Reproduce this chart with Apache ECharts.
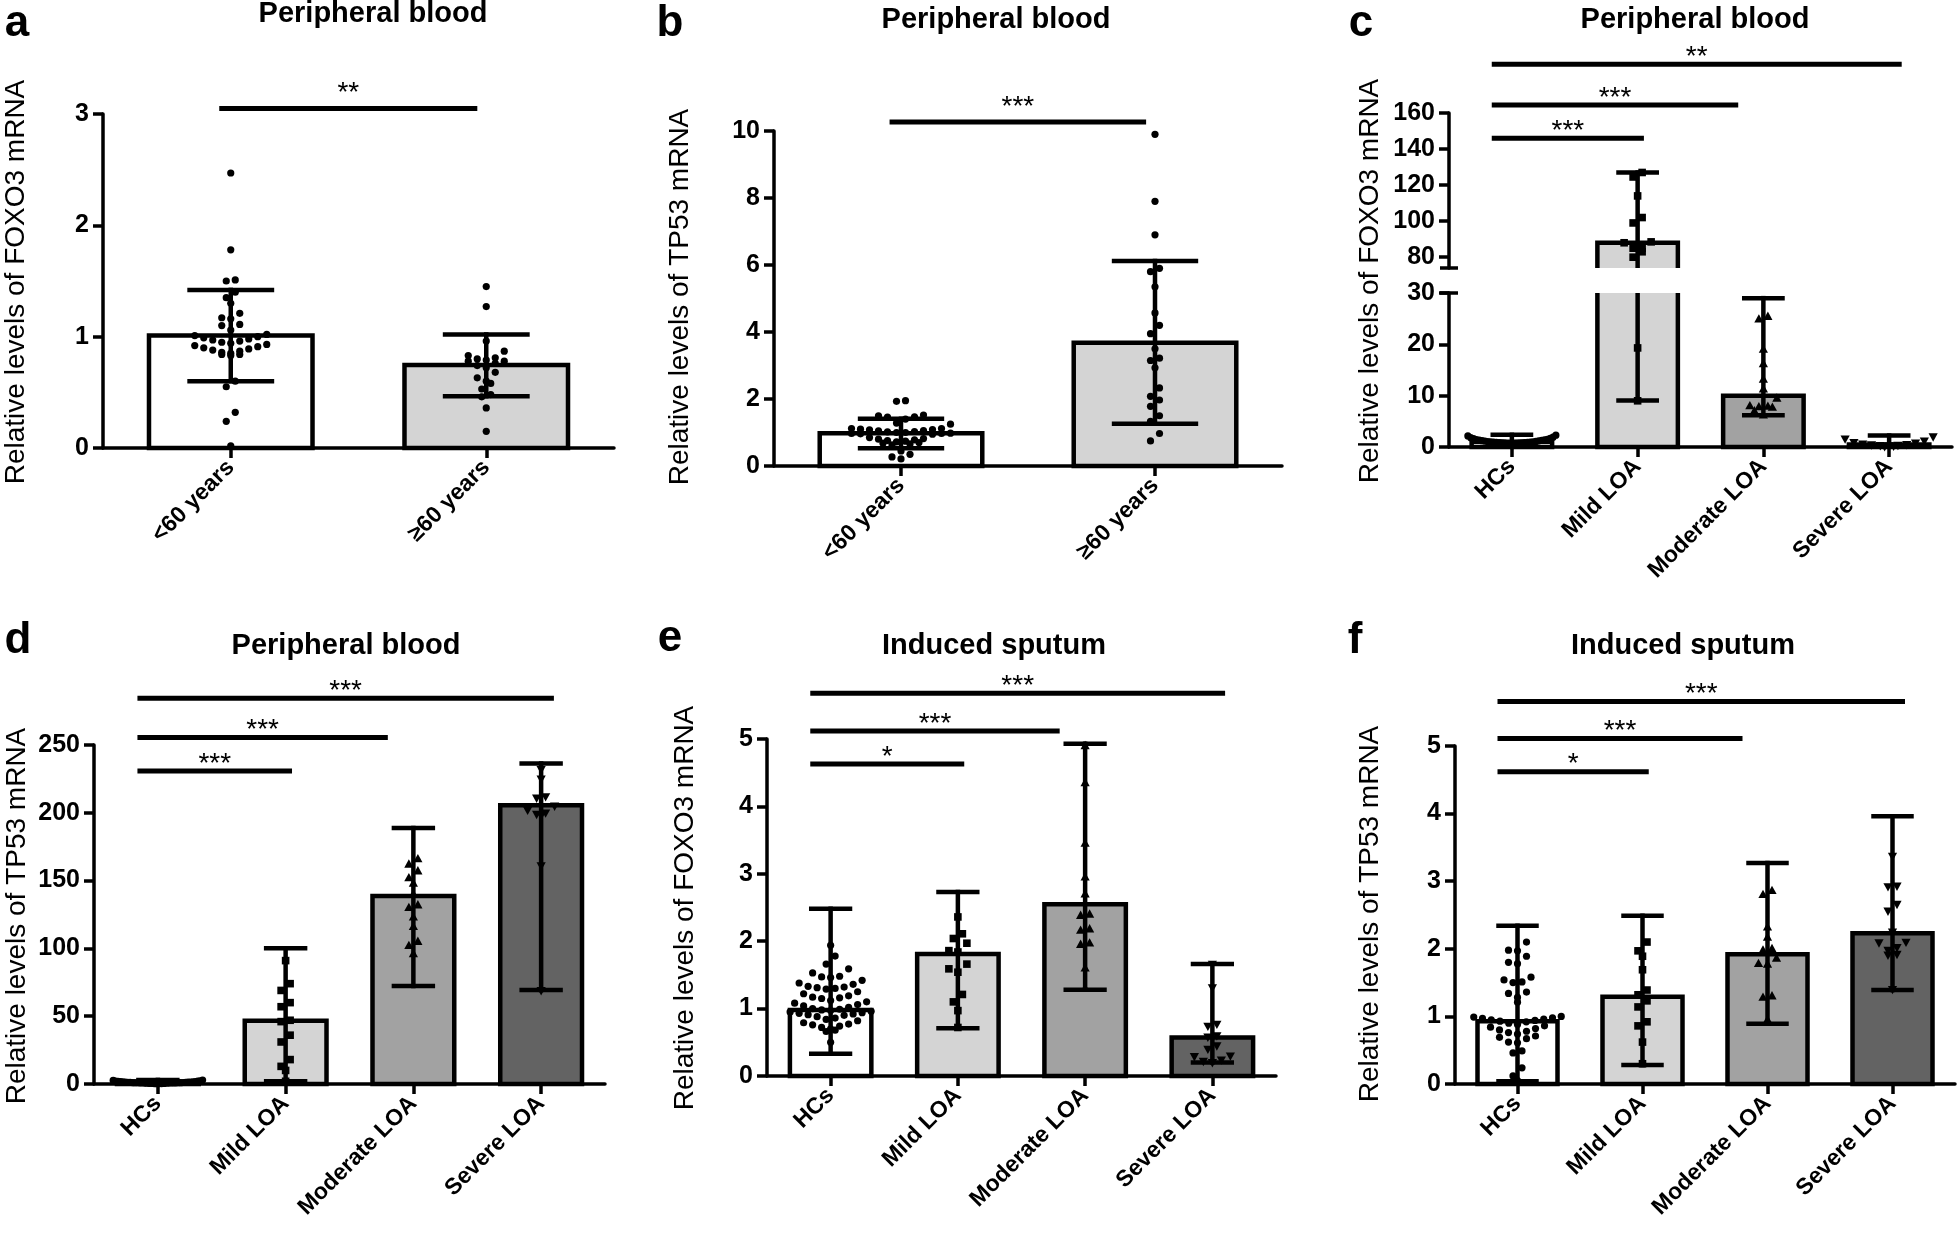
<!DOCTYPE html>
<html><head><meta charset="utf-8">
<script src="https://cdn.jsdelivr.net/npm/echarts@6.0.0/dist/echarts.min.js"></script>
<style>html,body{margin:0;padding:0;background:#fff}#chart{width:1959px;height:1234px}</style>
</head><body><div id="chart"></div>
<script>
// ================= DATA =================
const catsAge = ['<60 years', '\u226560 years'];
const catsLOA = ['HCs', 'Mild LOA', 'Moderate LOA', 'Severe LOA'];

// (a) FOXO3, peripheral blood, by age
const aMean = [1.01, 0.745];
const aLow = [0.60, 0.465];
const aHigh = [1.42, 1.02];
const aPtsUnder60 = [2.47, 1.78, 1.51, 1.50, 1.40, 1.35, 1.30, 1.21, 1.17, 1.16, 1.11, 1.10, 1.06, 1.02, 1.01, 1.00, 0.99, 0.98, 0.97, 0.96, 0.95, 0.94, 0.93, 0.92, 0.91, 0.90, 0.89, 0.88, 0.87, 0.86, 0.85, 0.84, 0.84, 0.83, 0.60, 0.55, 0.32, 0.24, 0.02];
const aPtsOver60 = [1.45, 1.27, 0.96, 0.87, 0.83, 0.81, 0.80, 0.79, 0.78, 0.78, 0.76, 0.74, 0.72, 0.68, 0.63, 0.60, 0.58, 0.53, 0.48, 0.46, 0.36, 0.15];
const aSig = [[0, 1, 3.05, '**']];
const aTicks = [0, 1, 2, 3];

// (b) TP53, peripheral blood, by age
const bMean = [0.98, 3.68];
const bLow = [0.53, 1.26];
const bHigh = [1.41, 6.12];
const bPtsUnder60 = [1.95, 1.93, 1.52, 1.50, 1.47, 1.46, 1.40, 1.28, 1.25, 1.12, 1.10, 1.12, 1.08, 1.05, 1.03, 1.02, 1.00, 0.98, 0.97, 0.96, 0.95, 0.97, 1.00, 1.06, 1.09, 0.85, 0.82, 0.78, 0.74, 0.70, 0.66, 0.63, 0.68, 0.72, 0.76, 0.80, 0.45, 0.35, 0.27, 0.21];
const bPtsOver60 = [9.9, 7.9, 6.9, 5.9, 5.8, 5.35, 4.57, 4.2, 3.95, 3.5, 3.22, 3.15, 2.93, 2.33, 2.08, 1.97, 1.78, 1.5, 1.33, 0.97, 0.75];
const bSig = [[0, 1, 10.27, '***']];
const bTicks = [0, 2, 4, 6, 8, 10];

// (c) FOXO3, peripheral blood, by severity (broken axis)
const cMean = [1.0, 88, 10.0, 0.5];
const cLow = [0.2, 9.07, 6.2, 0.1];
const cHigh = [2.37, 127, 29, 2.23];
const cPtsHC = [2.3, 2.15, 1.92, 1.81, 1.7, 1.62, 1.51, 1.44, 1.38, 1.33, 1.28, 1.24, 1.19, 1.13, 1.08, 1.04, 1.01, 0.99, 0.97, 0.94, 0.92, 0.89, 0.87, 0.84, 0.82, 0.79, 0.77, 0.74, 0.69, 0.64, 0.61, 0.56, 0.51, 0.44, 0.39, 0.31, 0.22];
const cPtsMild = [127, 124.5, 114, 102, 99, 88.5, 88, 85, 85, 83, 80, 19.3, 9];
const cPtsModerate = [25.4, 24.9, 19, 16.2, 13.2, 11.3, 9.5, 8.0, 7.9, 7.8, 7.7, 7.0, 6.2];
const cPtsSevere = [2.0, 1.6, 1.2, 0.9, 0.8, 0.6, 0.5, 0.45, 0.35, 0.3, 0.25, 0.2, 0.1];
const cSig = [[0, 1, 146, '***'], [0, 2, 164.5, '***'], [0, 3, 187, '**']];
const cTicksLower = [0, 10, 20, 30];
const cTicksUpper = [80, 100, 120, 140, 160];

// (d) TP53, peripheral blood, by severity
const dMean = [1.0, 46.6, 138.6, 205.5];
const dLow = [0.1, 2, 72.2, 69.3];
const dHigh = [3.0, 100.2, 188.7, 236.4];
const dPtsHC = [2.9, 2.6, 2.4, 2.2, 2.05, 1.9, 1.8, 1.7, 1.6, 1.52, 1.45, 1.4, 1.31, 1.25, 1.2, 1.14, 1.1, 1.05, 1.0, 0.98, 0.95, 0.91, 0.88, 0.85, 0.8, 0.76, 0.72, 0.7, 0.65, 0.6, 0.55, 0.5, 0.45, 0.4, 0.35, 0.3, 0.25, 0.2];
const dPtsMild = [91, 74, 69, 60, 57, 47, 46, 36, 31, 18, 13, 10, 2];
const dPtsModerate = [166, 162, 157, 152, 148, 140, 132, 130, 123, 116, 105, 102, 96];
const dPtsSevere = [232, 225, 212, 211, 205, 202, 200, 199, 198, 161, 69];
const dSig = [[0, 1, 230.8, '***'], [0, 2, 255.6, '***'], [0, 3, 284.5, '***']];
const dTicks = [0, 50, 100, 150, 200, 250];

// (e) FOXO3, induced sputum
const eMean = [0.98, 1.81, 2.55, 0.57];
const eLow = [0.33, 0.71, 1.28, 0.2];
const eHigh = [2.48, 2.73, 4.93, 1.66];
const ePtsHC = [1.94, 1.78, 1.66, 1.59, 1.53, 1.48, 1.47, 1.46, 1.42, 1.38, 1.36, 1.33, 1.32, 1.31, 1.30, 1.29, 1.25, 1.22, 1.19, 1.17, 1.16, 1.15, 1.12, 1.10, 1.08, 1.06, 1.04, 1.02, 1.0, 0.99, 0.98, 0.97, 0.96, 0.95, 0.94, 0.93, 0.92, 0.91, 0.90, 0.88, 0.86, 0.84, 0.82, 0.79, 0.77, 0.76, 0.74, 0.72, 0.70, 0.68, 0.66, 0.5];
const ePtsMild = [2.36, 2.11, 2.04, 1.97, 1.86, 1.84, 1.66, 1.59, 1.54, 1.21, 1.10, 0.97, 0.72];
const ePtsModerate = [4.9, 4.35, 3.45, 2.95, 2.7, 2.4, 2.38, 2.18, 2.16, 1.97, 1.95, 1.6, 1.3];
const ePtsSevere = [1.66, 1.31, 0.77, 0.74, 0.60, 0.58, 0.45, 0.40, 0.30, 0.29, 0.24, 0.22, 0.2];
const eSig = [[0, 1, 4.63, '*'], [0, 2, 5.12, '***'], [0, 3, 5.68, '***']];
const eTicks = [0, 1, 2, 3, 4, 5];

// (f) TP53, induced sputum
const fMean = [0.93, 1.29, 1.92, 2.23];
const fLow = [0.04, 0.28, 0.89, 1.39];
const fHigh = [2.34, 2.49, 3.27, 3.96];
const fPtsHC = [2.10, 1.98, 1.97, 1.89, 1.80, 1.78, 1.58, 1.54, 1.51, 1.50, 1.36, 1.34, 1.28, 1.21, 1.0, 0.99, 0.98, 0.97, 0.96, 0.95, 0.94, 0.93, 0.92, 0.90, 0.88, 0.86, 0.84, 0.82, 0.80, 0.78, 0.76, 0.74, 0.71, 0.69, 0.67, 0.62, 0.61, 0.49, 0.46, 0.24, 0.12, 0.05];
const fPtsMild = [2.10, 1.97, 1.89, 1.69, 1.39, 1.32, 1.23, 1.14, 0.92, 0.86, 0.62, 0.3];
const fPtsModerate = [2.86, 2.80, 2.32, 2.17, 2.0, 1.98, 1.86, 1.78, 1.77, 1.30, 1.28, 0.95];
const fPtsSevere = [3.37, 2.93, 2.92, 2.66, 2.56, 2.25, 2.10, 2.09, 2.02, 1.98, 1.92, 1.91, 1.40];
const fSig = [[0, 1, 4.62, '*'], [0, 2, 5.11, '***'], [0, 3, 5.66, '***']];
const fTicks = [0, 1, 2, 3, 4, 5];

// ================= STYLE / LAYOUT =================
const FONT = '"Liberation Sans", Arial, Helvetica, sans-serif';
const COL_AGE = ['#ffffff', '#d4d4d4'];
const COL_LOA = ['#ffffff', '#d4d4d4', '#a2a2a2', '#636363'];
const MK_AGE = ['circle', 'circle'];
const MK_LOA = ['circle', 'rect', 'triangle', 'triangleDown'];
const BAR_W = 0.64, CAP_W = 0.34, LW = 4.5, AXW = 3.5;

const grids = [], xAxes = [], yAxes = [], series = [], graphics = [];

// row-based dot layout (GraphPad-like): points close in y share a row,
// lowest values in the middle of the row
function rowLayout(ys, H, S, maxW) {
  const n = ys.length;
  const order = ys.map((y, i) => i).sort((a, b) => ys[a] - ys[b]);
  const xs = new Array(n).fill(0);
  let i = 0;
  while (i < n) {
    const start = ys[order[i]];
    const bin = [];
    while (i < n && ys[order[i]] - start < H) { bin.push(order[i]); i++; }
    bin.sort((a, b) => ys[b] - ys[a]);
    const m = bin.length;
    let s = S;
    if ((m - 1) / 2 * S > maxW) s = maxW / ((m - 1) / 2);
    const pos = [];
    for (let k = 0; k < m; k++) pos.push((k - (m - 1) / 2) * s);
    pos.sort((a, b) => (Math.abs(a) - Math.abs(b)) || (a - b));
    bin.forEach((idx, k) => { xs[idx] = pos[k]; });
  }
  return xs;
}

function markerShape(type, x, y) {
  const s = { fill: '#000' };
  if (type === 'circle') return { type: 'circle', shape: { cx: x, cy: y, r: 3.6 }, style: s };
  if (type === 'rect') return { type: 'rect', shape: { x: x - 3.8, y: y - 3.8, width: 7.6, height: 7.6 }, style: s };
  if (type === 'triangle') return { type: 'polygon', shape: { points: [[x, y - 5], [x - 4.6, y + 3.4], [x + 4.6, y + 3.4]] }, style: s };
  return { type: 'polygon', shape: { points: [[x, y + 5], [x - 4.6, y - 3.4], [x + 4.6, y - 3.4]] }, style: s };
}

function addPanel(p) {
  const gi = grids.length;
  const yMin = p.yMin, yMax = p.yMax;
  grids.push({ left: p.box[0], top: p.box[1], width: p.box[2], height: p.box[3], containLabel: false, outerBoundsMode: 'none' });
  xAxes.push({
    gridIndex: gi, type: 'category', data: p.cats, show: !p.hideX, boundaryGap: true,
    axisLine: { show: true, onZero: false, lineStyle: { color: '#000', width: AXW } },
    axisTick: { show: true, alignWithLabel: true, length: 10, lineStyle: { color: '#000', width: AXW } },
    axisLabel: { show: true, interval: 0, rotate: 45, margin: 16, fontSize: 23, fontWeight: 'bold', color: '#000', fontFamily: FONT },
    splitLine: { show: false }
  });
  yAxes.push({
    gridIndex: gi, type: 'value', min: yMin, max: yMax,
    axisLine: { show: true, lineStyle: { color: '#000', width: AXW } },
    axisTick: { show: true, length: 10, lineStyle: { color: '#000', width: AXW }, customValues: p.ticks },
    axisLabel: { show: true, margin: 14, fontSize: 25, fontWeight: 'bold', color: '#000', fontFamily: FONT, customValues: p.ticks, showMinLabel: true, showMaxLabel: true, hideOverlap: false },
    splitLine: { show: false }
  });

  // bars
  series.push({
    type: 'custom', xAxisIndex: gi, yAxisIndex: gi, z: 2, silent: true,
    data: p.mean.map((m, i) => [i, m]),
    renderItem(params, api) {
      const i = api.value(0), v = api.value(1);
      const band = api.size([1, 0])[0];
      const w = band * BAR_W;
      const topV = Math.min(v, yMax), botV = Math.max(0, yMin);
      if (topV <= botV) return { type: 'group', children: [] };
      const pb = api.coord([i, botV]), pt = api.coord([i, topV]);
      const x0 = pb[0] - w / 2, x1 = pb[0] + w / 2, yb = pb[1], yt = pt[1];
      const children = [{ type: 'rect', shape: { x: x0, y: yt, width: w, height: yb - yt }, style: { fill: p.colors[i] } }];
      const st = { stroke: '#000', lineWidth: LW, fill: 'none', lineJoin: 'miter' };
      if (v > yMax) children.push({ type: 'polyline', shape: { points: [[x0, yt], [x0, yb], [x1, yb], [x1, yt]] }, style: st });
      else if (yMin > 0) children.push({ type: 'polyline', shape: { points: [[x0, yb], [x0, yt], [x1, yt], [x1, yb]] }, style: st });
      else children.push({ type: 'polygon', shape: { points: [[x0, yb], [x0, yt], [x1, yt], [x1, yb]] }, style: st });
      return { type: 'group', children };
    }
  });

  // points
  const data = [];
  p.points.forEach((vals, g) => vals.forEach((v, k) => { if (v >= yMin && v <= yMax) data.push([g, v, k]); }));
  const cache = {};
  series.push({
    type: 'custom', xAxisIndex: gi, yAxisIndex: gi, z: 3, silent: true, data,
    renderItem(params, api) {
      const g = api.value(0), v = api.value(1), k = api.value(2);
      if (!cache[g]) {
        const ys = p.points[g].map(u => api.coord([g, u])[1]);
        cache[g] = rowLayout(ys, 9, 9, api.size([1, 0])[0] * 0.35);
      }
      const c = api.coord([g, v]);
      return markerShape(p.markers[g], c[0] + cache[g][k], c[1]);
    }
  });

  // error bars
  series.push({
    type: 'custom', xAxisIndex: gi, yAxisIndex: gi, z: 4, silent: true,
    data: p.mean.map((m, i) => [i, p.low[i], p.high[i]]),
    renderItem(params, api) {
      const i = api.value(0), lo = api.value(1), hi = api.value(2);
      const a = Math.max(lo, yMin), b = Math.min(hi, yMax);
      if (a >= b) return { type: 'group', children: [] };
      const cw = api.size([1, 0])[0] * CAP_W / 2;
      const pa = api.coord([i, a]), pb = api.coord([i, b]);
      const st = { stroke: '#000', lineWidth: LW };
      const ch = [{ type: 'line', shape: { x1: pa[0], y1: pa[1] + (lo >= yMin ? LW / 2 : 0), x2: pb[0], y2: pb[1] - (hi <= yMax ? LW / 2 : 0) }, style: st }];
      if (lo >= yMin) ch.push({ type: 'line', shape: { x1: pa[0] - cw, y1: pa[1], x2: pa[0] + cw, y2: pa[1] }, style: st });
      if (hi <= yMax) ch.push({ type: 'line', shape: { x1: pb[0] - cw, y1: pb[1], x2: pb[0] + cw, y2: pb[1] }, style: st });
      return { type: 'group', children: ch };
    }
  });

  // axis-break marks (short strokes across the y axis)
  if (p.breakAt) {
    series.push({
      type: 'custom', xAxisIndex: gi, yAxisIndex: gi, z: 5, silent: true,
      data: p.breakAt.map(v => [0, v]),
      renderItem(params, api) {
        const c = api.coord([0, api.value(1)]);
        const ax = c[0] - api.size([1, 0])[0] / 2;
        return { type: 'line', shape: { x1: ax - 9, y1: c[1], x2: ax + 9, y2: c[1] }, style: { stroke: '#000', lineWidth: AXW } };
      }
    });
  }

  // significance brackets
  if (p.sig) {
    series.push({
      type: 'custom', xAxisIndex: gi, yAxisIndex: gi, z: 4, silent: true, clip: false,
      data: p.sig.map(s => [s[0], s[2]]),
      renderItem(params, api) {
        const s = p.sig[params.dataIndex];
        const band = api.size([1, 0])[0];
        const p1 = api.coord([s[0], s[2]]), p2 = api.coord([s[1], s[2]]);
        const x1 = p1[0] + band * p.sigStart, x2 = p2[0] + band * p.sigEnd(s[1]);
        return {
          type: 'group', children: [
            { type: 'line', shape: { x1, y1: p1[1], x2, y2: p1[1] }, style: { stroke: '#000', lineWidth: 5 } },
            { type: 'text', x: (x1 + x2) / 2, y: p1[1] + p.starDy, style: { text: s[3], fill: '#000', fontSize: 28, fontFamily: FONT, align: 'center', verticalAlign: 'bottom', textAlign: 'center', textVerticalAlign: 'bottom' } }
          ]
        };
      }
    });
  }
  return gi;
}

function txt(text, x, y, size, bold, rot) {
  graphics.push({
    type: 'text', x, y, rotation: rot || 0, z: 100, silent: true,
    style: { text, fill: '#000', fontSize: size, fontWeight: bold ? 'bold' : 'normal', fontFamily: FONT, align: 'center', verticalAlign: 'middle', textAlign: 'center', textVerticalAlign: 'middle' }
  });
}

const endAge = () => -0.035;
const endLOA = (to) => ({ 1: 0.05, 2: -0.2, 3: 0.1 })[to];

// (a)
addPanel({ box: [103, 114, 511, 334], cats: catsAge, yMin: 0, yMax: 3, ticks: aTicks, mean: aMean, low: aLow, high: aHigh,
  points: [aPtsUnder60, aPtsOver60], colors: COL_AGE, markers: MK_AGE, sig: aSig, sigStart: -0.045, sigEnd: endAge, starDy: -1 });
// (b)
addPanel({ box: [774, 131, 508, 335], cats: catsAge, yMin: 0, yMax: 10, ticks: bTicks, mean: bMean, low: bLow, high: bHigh,
  points: [bPtsUnder60, bPtsOver60], colors: COL_AGE, markers: MK_AGE, sig: bSig, sigStart: -0.045, sigEnd: endAge, starDy: -1 });
// (c) upper segment
addPanel({ box: [1449, 113, 503, 155], cats: catsLOA, yMin: 74, yMax: 160, ticks: cTicksUpper, hideX: true, breakAt: [74],
  mean: cMean, low: cLow, high: cHigh, points: [cPtsHC, cPtsMild, cPtsModerate, cPtsSevere], colors: COL_LOA, markers: MK_LOA,
  sig: cSig, sigStart: -0.16, sigEnd: endLOA, starDy: 7 });
// (c) lower segment
addPanel({ box: [1449, 293, 503, 154], cats: catsLOA, yMin: 0, yMax: 30, ticks: cTicksLower, breakAt: [30],
  mean: cMean, low: cLow, high: cHigh, points: [cPtsHC, cPtsMild, cPtsModerate, cPtsSevere], colors: COL_LOA, markers: MK_LOA });
// (d)
addPanel({ box: [94, 745, 511, 339], cats: catsLOA, yMin: 0, yMax: 250, ticks: dTicks, mean: dMean, low: dLow, high: dHigh,
  points: [dPtsHC, dPtsMild, dPtsModerate, dPtsSevere], colors: COL_LOA, markers: MK_LOA, sig: dSig, sigStart: -0.16, sigEnd: endLOA, starDy: 7 });
// (e)
addPanel({ box: [767, 739, 509, 337], cats: catsLOA, yMin: 0, yMax: 5, ticks: eTicks, mean: eMean, low: eLow, high: eHigh,
  points: [ePtsHC, ePtsMild, ePtsModerate, ePtsSevere], colors: COL_LOA, markers: MK_LOA, sig: eSig, sigStart: -0.16, sigEnd: endLOA, starDy: 7 });
// (f)
addPanel({ box: [1455, 746, 500, 338], cats: catsLOA, yMin: 0, yMax: 5, ticks: fTicks, mean: fMean, low: fLow, high: fHigh,
  points: [fPtsHC, fPtsMild, fPtsModerate, fPtsSevere], colors: COL_LOA, markers: MK_LOA, sig: fSig, sigStart: -0.16, sigEnd: endLOA, starDy: 7 });

// panel letters
txt('a', 17, 24, 44, true); txt('b', 670, 24, 44, true); txt('c', 1361, 24, 44, true);
txt('d', 18, 641, 44, true); txt('e', 670, 639, 44, true); txt('f', 1355, 641, 44, true);
// titles
txt('Peripheral blood', 373, 14, 29, true); txt('Peripheral blood', 996, 20, 29, true); txt('Peripheral blood', 1695, 20, 29, true);
txt('Peripheral blood', 346, 646, 29, true); txt('Induced sputum', 994, 646, 29, true); txt('Induced sputum', 1683, 646, 29, true);
// y-axis titles
const R = Math.PI / 2;
txt('Relative levels of FOXO3 mRNA', 16, 282, 28, false, R);
txt('Relative levels of TP53 mRNA', 680, 297, 28, false, R);
txt('Relative levels of FOXO3 mRNA', 1370, 281, 28, false, R);
txt('Relative levels of TP53 mRNA', 17, 916, 28, false, R);
txt('Relative levels of FOXO3 mRNA', 685, 908, 28, false, R);
txt('Relative levels of TP53 mRNA', 1370, 914, 28, false, R);

const chart = echarts.init(document.getElementById('chart'), null, { renderer: 'canvas', width: 1959, height: 1234 });
chart.setOption({
  backgroundColor: '#fff', animation: false,
  grid: grids, xAxis: xAxes, yAxis: yAxes, series, graphic: graphics
});
</script>
</body></html>
